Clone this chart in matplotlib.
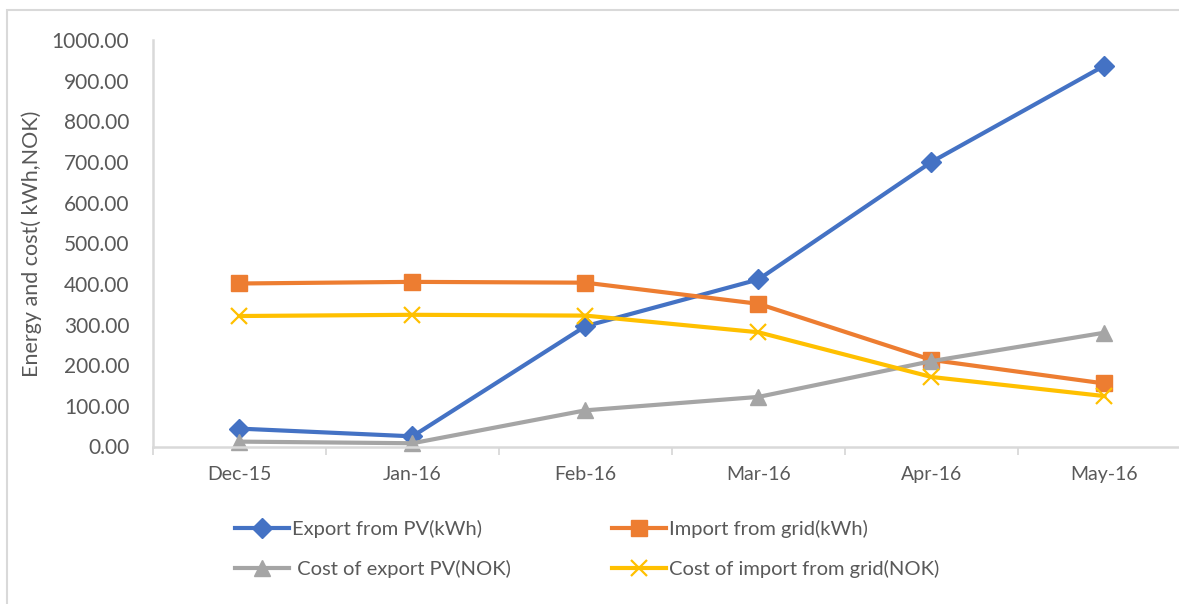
import matplotlib
matplotlib.use("Agg")
import matplotlib.pyplot as plt
from matplotlib.patches import Rectangle
from matplotlib.ticker import FixedLocator, FormatStrFormatter

months = ["Dec-15", "Jan-16", "Feb-16", "Mar-16", "Apr-16", "May-16"]
export_pv = [44, 25, 296, 411, 700, 937]
import_grid = [401, 405, 403, 351, 213, 155]
cost_export = [12, 8, 89, 122, 210, 280]
cost_import = [321, 324, 322, 281, 171, 124]

labels = ["Export from PV(kWh)", "Import from grid(kWh)",
          " Cost of export PV(NOK)", "Cost of import from grid(NOK)"]

plt.rcParams['font.family'] = ['Lato', 'DejaVu Sans']
TXT = '#595959'
AX = '#D9D9D9'

W, H = 1179, 604
fig = plt.figure(figsize=(W / 100, H / 100), dpi=100)
ax = fig.add_axes([153 / W, 1 - 446.5 / H, (1191 - 153) / W, (446.5 - 40) / H])

x = list(range(len(months)))
lw = 3.0
l1, = ax.plot(x, export_pv, color='#4472C4', lw=lw, marker='D', ms=10, clip_on=False)
l2, = ax.plot(x, import_grid, color='#ED7D31', lw=lw, marker='s', ms=11, clip_on=False)
l3, = ax.plot(x, cost_export, color='#A5A5A5', lw=lw, marker='^', ms=11, clip_on=False)
l4, = ax.plot(x, cost_import, color='#FFC000', lw=lw, marker='x', ms=11, mew=1.6, clip_on=False)

ax.set_xlim(-0.5, len(months) - 0.5)
ax.set_ylim(0, 1000)
ax.set_yticks(range(0, 1001, 100))
ax.yaxis.set_major_formatter(FormatStrFormatter('%.2f'))
ax.set_xticks(x)
ax.set_xticklabels(months)
ax.xaxis.set_minor_locator(FixedLocator([i - 0.5 for i in range(len(months) + 1)]))

ax.tick_params(axis='y', length=0, pad=17, labelsize=15, colors=TXT)
ax.tick_params(axis='x', which='major', length=0, pad=14, labelsize=14, colors=TXT)
ax.tick_params(axis='x', which='minor', length=6, width=1.3, color=AX)
for s in ['top', 'right']:
    ax.spines[s].set_visible(False)
for s in ['left', 'bottom']:
    ax.spines[s].set_color(AX)
    ax.spines[s].set_linewidth(1.8)
ax.set_zorder(1)

fig.text(32 / W, 1 - 243.5 / H, "Energy and cost( kWh,NOK)", rotation=90,
         ha='center', va='center', fontsize=15.5, color=TXT)

leg = fig.legend([l1, l3, l2, l4], [labels[0], labels[2], labels[1], labels[3]],
                 ncol=2, loc='upper left', bbox_to_anchor=(235 / W, 1 - 520 / H),
                 frameon=False, fontsize=14.5, handlelength=2.7, handletextpad=0.15,
                 columnspacing=5.0, labelspacing=1.1, borderaxespad=0, borderpad=0)
for t in leg.get_texts():
    t.set_color(TXT)

fig.patches.append(Rectangle((7.5 / W, -0.1), 2, 1.1 - 10 / H, transform=fig.transFigure,
                             fill=False, edgecolor=AX, lw=1.5))

fig.savefig("out.png", dpi=100, facecolor='white')
